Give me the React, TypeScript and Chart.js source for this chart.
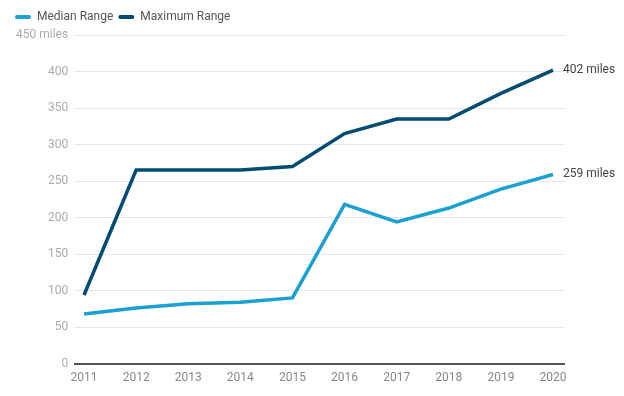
import React, { useEffect, useRef } from "react";
import { Chart, registerables } from "chart.js";

Chart.register(...registerables);

const years = [2011, 2012, 2013, 2014, 2015, 2016, 2017, 2018, 2019, 2020];
const medianRange = [68, 76, 82, 84, 90, 218, 194, 213, 239, 259];
const maximumRange = [94, 265, 265, 265, 270, 315, 335, 335, 370, 402];
const seriesNames = ["Median Range", "Maximum Range"];
const seriesColors = ["#1ba1d1", "#024c72"];
const yMax = 450;
const yStep = 50;
const unit = "miles";

const FONT = "Roboto, 'Noto Sans', sans-serif";

const endLabels = {
  id: "endLabels",
  afterDatasetsDraw(chart: any) {
    const ctx = chart.ctx;
    ctx.save();
    ctx.font = `12px ${FONT}`;
    ctx.fillStyle = "#444444";
    ctx.textAlign = "left";
    ctx.textBaseline = "middle";
    chart.data.datasets.forEach((ds: any, i: number) => {
      const meta = chart.getDatasetMeta(i);
      const last = meta.data[meta.data.length - 1];
      const v = ds.data[ds.data.length - 1].y;
      ctx.fillText(`${v} ${unit}`, last.x + 10, last.y);
    });
    ctx.restore();
  },
};

const legendMargin = {
  id: "legendMargin",
  beforeInit(chart: any) {
    const legend = chart.legend;
    if (!legend) return;
    const fit = legend.fit;
    legend.fit = function () {
      fit.call(this);
      this.height += 2;
    };
  },
};

export default function App() {
  const ref = useRef<HTMLCanvasElement | null>(null);
  useEffect(() => {
    if (!ref.current) return;
    const mk = (vals: number[]) => vals.map((v, i) => ({ x: years[i], y: v }));
    const chart = new Chart(ref.current, {
      type: "line",
      data: {
        datasets: [
          {
            label: seriesNames[0],
            data: mk(medianRange),
            borderColor: seriesColors[0],
            backgroundColor: seriesColors[0],
            borderWidth: 3.5,
            pointRadius: 0,
            tension: 0,
          },
          {
            label: seriesNames[1],
            data: mk(maximumRange),
            borderColor: seriesColors[1],
            backgroundColor: seriesColors[1],
            borderWidth: 3.5,
            pointRadius: 0,
            tension: 0,
          },
        ],
      },
      options: {
        animation: false,
        responsive: true,
        maintainAspectRatio: false,
        layout: { padding: { left: 10, right: 59, top: 6, bottom: 4 } },
        plugins: {
          tooltip: { enabled: false },
          legend: {
            position: "top",
            align: "start",
            labels: {
              boxWidth: 16,
              boxHeight: 4,
              useBorderRadius: true,
              borderRadius: 2,
              padding: 5,
              color: "#555555",
              font: { family: FONT, size: 12 },
              generateLabels: (c: any) =>
                Chart.defaults.plugins.legend.labels
                  .generateLabels(c)
                  .map((l: any) => ({ ...l, lineWidth: 0 })),
            },
          },
        },
        scales: {
          x: {
            type: "linear",
            min: 2010.81,
            max: 2020.23,
            grid: { display: false, drawTicks: false },
            border: { display: false },
            ticks: {
              stepSize: 1,
              includeBounds: false,
              autoSkip: false,
              maxRotation: 0,
              padding: 7,
              color: "#888888",
              font: { family: FONT, size: 12 },
              callback: (v: any) => String(v),
            },
          },
          y: {
            min: 0,
            max: yMax,
            border: { display: false },
            grid: {
              drawTicks: false,
              color: (c: any) => (c.tick && c.tick.value === 0 ? "#555555" : "#e6e6e6"),
              lineWidth: (c: any) => (c.tick && c.tick.value === 0 ? 2 : 1),
            },
            ticks: {
              stepSize: yStep,
              padding: 6,
              color: "#aaaaaa",
              font: { family: FONT, size: 12 },
              callback: (v: any) => (v === yMax ? `${v} ${unit}` : String(v)),
            },
          },
        },
      },
      plugins: [endLabels, legendMargin],
    } as any);
    return () => chart.destroy();
  }, []);
  return (
    <div style={{ position: "absolute", left: 0, top: 0, width: 624, height: 396 }}>
      <canvas ref={ref} />
    </div>
  );
}
